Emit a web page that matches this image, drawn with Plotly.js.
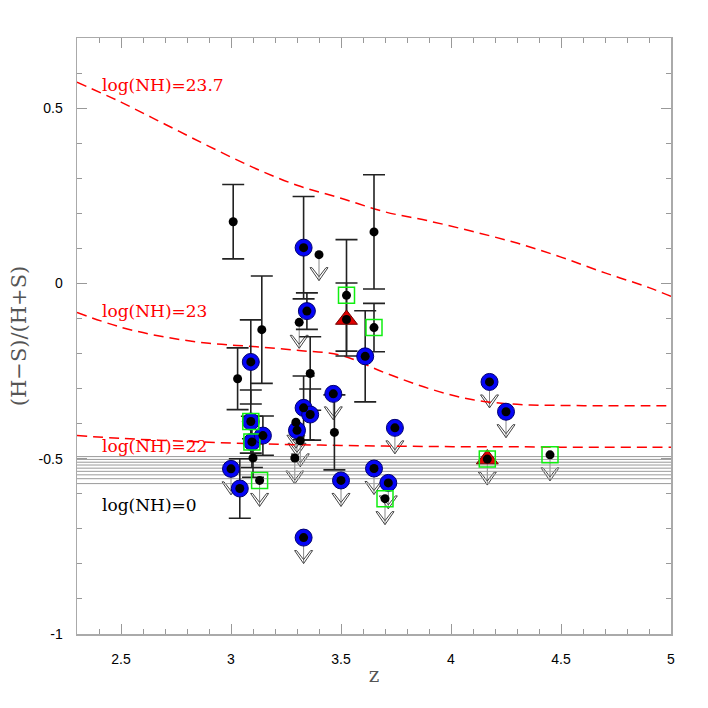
<!DOCTYPE html>
<html><head><meta charset="utf-8">
<script src="https://cdn.plot.ly/plotly-3.0.1.min.js"></script>
<style>html,body{margin:0;padding:0;background:#fff}#chart{width:708px;height:708px}</style>
</head><body><div id="chart"></div>
<script>
// ---- model curves: hardness ratio vs redshift for fixed absorption ----
const curveZ     = [2.3, 2.5, 2.7, 2.9, 3.1, 3.3, 3.5, 3.7, 3.9, 4.1, 4.3, 4.5, 4.7, 4.9, 5.0];
const curveNH237 = [0.574, 0.517, 0.454, 0.391, 0.331, 0.280, 0.243, 0.204, 0.178, 0.148, 0.115, 0.075, 0.030, -0.012, -0.037];
const curveNH23  = [-0.083, -0.125, -0.153, -0.171, -0.180, -0.191, -0.205, -0.255, -0.300, -0.332, -0.345, -0.348, -0.349, -0.349, -0.349];
const curveNH22  = [-0.434, -0.442, -0.448, -0.453, -0.457, -0.460, -0.462, -0.464, -0.465, -0.466, -0.466, -0.467, -0.467, -0.467, -0.467];
const nh0Levels  = [-0.494, -0.502, -0.510, -0.518, -0.527, -0.536, -0.546, -0.557, -0.571];
const curveNames = ['log(NH)=23.7', 'log(NH)=23', 'log(NH)=22', 'log(NH)=0'];

// ---- sources ----
const srcZ   = [3.01, 3.03, 3.14, 3.36, 3.47, 3.65, 3.10, 3.09, 3.09, 3.095, 3.145, 3.04, 3.33, 3.345, 3.33, 3.36, 3.61, 3.525, 3.525, 3.65,
                3.40, 3.31, 3.13, 3.00, 3.30, 3.295, 3.315, 3.29, 3.465, 3.50, 3.33, 3.745, 3.65, 3.715, 3.70, 4.175, 4.25, 4.165, 4.45];
const srcHR  = [0.176, -0.272, -0.132, -0.257, -0.425, 0.147, -0.498, -0.224, -0.394, -0.452, -0.434, -0.585, 0.102, -0.079, -0.355, -0.374, -0.208, -0.103, -0.034, -0.126,
                0.082, -0.111, -0.562, -0.529, -0.419, -0.396, -0.449, -0.498, -0.315, -0.562, -0.725, -0.412, -0.528, -0.569, -0.614, -0.281, -0.366, -0.501, -0.489];
const srcErr = [0.106, 0.088, 0.153, 0.105, 0.107, 0.163, 0.055, 0.120, 0.090, 0.073, 0.056, 0.085, 0.146, 0.052, 0.091, 0.073, 0.130, 0.104, 0.159, 0.069,
                0, 0, 0, 0, 0, 0, 0, 0, 0, 0, 0, 0, 0, 0, 0, 0, 0, 0, 0];
const isLimit    = [0,0,0,0,0,0,0,0,0,0,0,0,0,0,0,0,0,0,0,0, 1,1,1,1,1,1,1,1,1,1,1,1,1,1,1,1,1,1,1];
const isBlue     = [0,0,0,0,0,0,0,1,1,1,1,1,1,1,1,1,1,0,0,0, 0,0,0,1,1,0,0,0,1,1,1,1,1,1,0,1,1,0,0];
const isSquare   = [0,0,0,0,0,0,0,0,1,1,0,0,0,0,0,0,0,0,1,1, 0,0,1,0,0,0,0,0,0,0,0,0,0,0,1,0,0,1,1];
const isTriangle = [0,0,0,0,0,0,0,0,0,0,0,0,0,0,0,0,0,1,0,0, 0,0,0,0,0,0,0,0,0,0,0,0,0,0,0,0,0,1,0];

const idx = srcZ.map((_, i) => i);
const pick = (arr, flags) => idx.filter(i => flags[i]).map(i => arr[i]);
const detFlag = isLimit.map(v => v ? 0 : 1);

const traces = [];
// log(NH)=0 family of flat lines
nh0Levels.forEach(v => traces.push({
  x: [curveZ[0], curveZ[curveZ.length - 1]], y: [v, v], mode: 'lines',
  line: {color: '#9a9a9a', width: 1}, hoverinfo: 'skip', showlegend: false
}));
[curveNH237, curveNH23, curveNH22].forEach(c => traces.push({
  x: curveZ, y: c, mode: 'lines', line: {color: '#ff0000', width: 1.5, dash: '10px,6px', shape: 'spline'},
  hoverinfo: 'skip', showlegend: false
}));
// error bars
traces.push({
  x: pick(srcZ, detFlag), y: pick(srcHR, detFlag), mode: 'markers',
  marker: {size: 2, color: 'rgba(0,0,0,0)'},
  error_y: {type: 'data', array: pick(srcErr, detFlag), visible: true, color: '#222', thickness: 1.6, width: 11},
  hoverinfo: 'skip', showlegend: false
});
// blue circles
traces.push({
  x: pick(srcZ, isBlue), y: pick(srcHR, isBlue), mode: 'markers',
  marker: {size: 17, color: '#0505f5', line: {color: '#000070', width: 1}},
  hoverinfo: 'skip', showlegend: false
});
// red triangles
traces.push({
  x: pick(srcZ, isTriangle), y: pick(srcHR, isTriangle), mode: 'markers',
  marker: {size: 19, symbol: 'triangle-up', color: '#e00000', line: {color: '#700000', width: 1}},
  hoverinfo: 'skip', showlegend: false
});
// green squares
traces.push({
  x: pick(srcZ, isSquare), y: pick(srcHR, isSquare), mode: 'markers',
  marker: {size: 16, symbol: 'square-open', color: '#11ee11', line: {width: 1.5}},
  hoverinfo: 'skip', showlegend: false
});
// black dots
traces.push({
  x: srcZ, y: srcHR, mode: 'markers',
  marker: {size: 9, color: '#000'},
  hoverinfo: 'skip', showlegend: false
});

// upper-limit arrows
const shapes = [];
idx.filter(i => isLimit[i]).forEach(i => {
  const base = {type: 'path', xref: 'x', yref: 'y', xsizemode: 'pixel', ysizemode: 'pixel',
                xanchor: srcZ[i], yanchor: srcHR[i], layer: 'below'};
  shapes.push(Object.assign({}, base, {path: 'M0,0L0,-26', line: {color: '#888', width: 1}}));
  shapes.push(Object.assign({}, base, {path: 'M-9,-13L0,-26L9,-13L7,-13L0,-22L-7,-13Z',
                                       line: {color: '#444', width: 1}, fillcolor: 'rgba(0,0,0,0)'}));
});

const labelY = [0.566, -0.080, -0.465, -0.631];
const labelColor = ['#ff0000', '#ff0000', '#ff0000', '#000000'];
const annotations = curveNames.map((t, k) => ({
  text: t, x: 2.404, y: labelY[k], xref: 'x', yref: 'y', xanchor: 'left', yanchor: 'middle',
  showarrow: false, font: {family: 'DejaVu Serif', size: 17, color: labelColor[k]}
}));

const axisCommon = {
  ticks: 'inside', ticklen: 10, tickwidth: 1, tickcolor: '#999',
  showline: true, linecolor: '#aaa', linewidth: 1.5, mirror: 'ticks',
  showgrid: false, zeroline: false,
  tickfont: {family: 'Liberation Sans, Arial, sans-serif', size: 14, color: '#000'}
};

const layout = {
  width: 708, height: 708,
  margin: {l: 77, r: 37, t: 38, b: 74},
  paper_bgcolor: '#fff', plot_bgcolor: '#fff',
  showlegend: false,
  xaxis: Object.assign({}, axisCommon, {
    range: [2.3, 5],
    tickvals: [2.5, 3, 3.5, 4, 4.5, 5], ticktext: ['2.5', '3', '3.5', '4', '4.5', '5'],
    minor: {ticks: 'inside', dtick: 0.1, tick0: 0, ticklen: 5, tickcolor: '#999'},
    ticklabelstandoff: 12,
    title: {text: 'z', font: {family: 'DejaVu Serif', size: 20, color: '#555'}, standoff: 1}
  }),
  yaxis: Object.assign({}, axisCommon, {
    range: [-1, 0.7],
    tickvals: [-1, -0.5, 0, 0.5], ticktext: ['-1', '-0.5', '0', '0.5'],
    minor: {ticks: 'inside', dtick: 0.1, tick0: 0, ticklen: 5, tickcolor: '#999'},
    ticklabelstandoff: 10,
    title: {text: '(H\u2212S)/(H+S)', font: {family: 'DejaVu Serif', size: 21, color: '#555'}, standoff: 6}
  }),
  shapes: shapes,
  annotations: annotations
};

Plotly.newPlot('chart', traces, layout, {staticPlot: true, displayModeBar: false});
</script></body></html>
